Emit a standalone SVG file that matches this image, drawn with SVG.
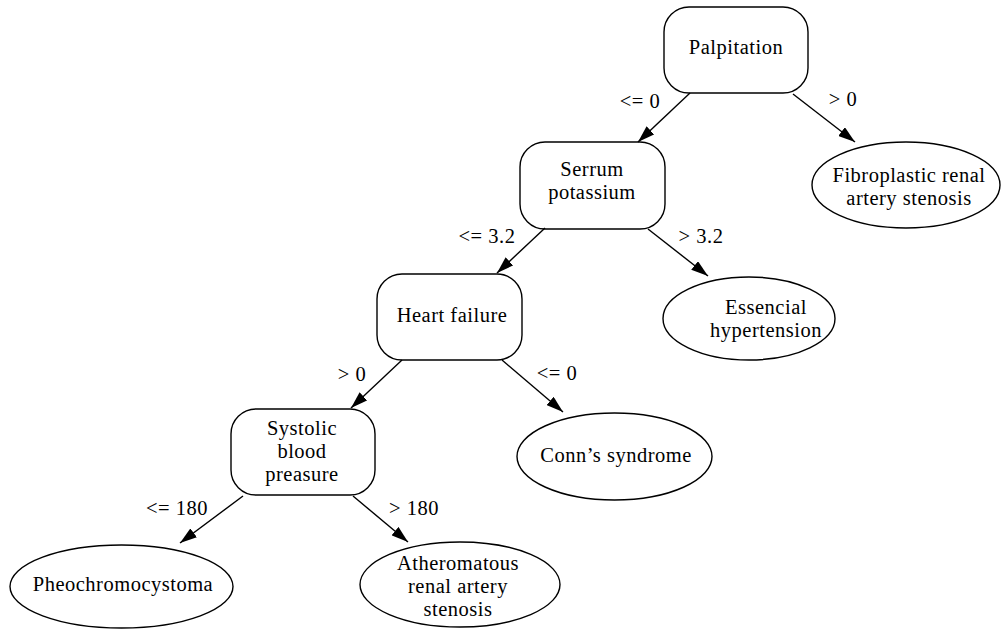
<svg xmlns="http://www.w3.org/2000/svg" width="1001" height="630" viewBox="0 0 1001 630">
  <style>
    text { font-family: "Liberation Serif", "Times New Roman", serif; font-size: 20.5px; letter-spacing: 0.5px; fill: #000; text-anchor: middle; }
    .box { fill: #fff; stroke: #000; stroke-width: 1.4; }
    .leaf { fill: #fff; stroke: #000; stroke-width: 1.4; }
    .edge { stroke: #000; stroke-width: 1.4; fill: none; marker-end: url(#arrow); }
  </style>
  <defs>
    <marker id="arrow" viewBox="0 0 17 11" refX="17" refY="5.5" markerWidth="17" markerHeight="11" markerUnits="userSpaceOnUse" orient="auto">
      <path d="M0,0 L17,5.5 L0,11 Z" fill="#000"/>
    </marker>
  </defs>
  <rect width="1001" height="630" fill="#fff"/>

  <!-- decision nodes -->
  <g id="palpitation">
    <rect class="box" x="664" y="7" width="144" height="86" rx="25"/>
    <text x="736" y="54">Palpitation</text>
  </g>
  <g id="serrum-potassium">
    <rect class="box" x="520" y="142" width="145" height="87" rx="25"/>
    <text x="592" y="176">Serrum</text>
    <text x="592" y="199">potassium</text>
  </g>
  <g id="heart-failure">
    <rect class="box" x="377" y="274" width="145" height="86" rx="25"/>
    <text x="452" y="322">Heart failure</text>
  </g>
  <g id="systolic-blood-preasure">
    <rect class="box" x="231" y="409" width="144" height="86" rx="25"/>
    <text x="302" y="435">Systolic</text>
    <text x="302" y="458">blood</text>
    <text x="302" y="481">preasure</text>
  </g>

  <!-- outcome nodes -->
  <g id="fibroplastic">
    <ellipse class="leaf" cx="906" cy="185" rx="94" ry="43"/>
    <text x="909" y="182">Fibroplastic renal</text>
    <text x="909" y="205">artery stenosis</text>
  </g>
  <g id="essencial-hypertension">
    <ellipse class="leaf" cx="749" cy="318.5" rx="86" ry="41.5"/>
    <text x="766" y="314">Essencial</text>
    <text x="766" y="337">hypertension</text>
  </g>
  <g id="conns-syndrome">
    <ellipse class="leaf" cx="614.5" cy="456.5" rx="97.5" ry="43.5"/>
    <text x="616" y="462">Conn’s syndrome</text>
  </g>
  <g id="pheochromocystoma">
    <ellipse class="leaf" cx="121.5" cy="586.5" rx="111.5" ry="41.5"/>
    <text x="123" y="591">Pheochromocystoma</text>
  </g>
  <g id="atheromatous">
    <ellipse class="leaf" cx="460" cy="584.5" rx="100" ry="42.5"/>
    <text x="458" y="570">Atheromatous</text>
    <text x="458" y="593">renal artery</text>
    <text x="458" y="616">stenosis</text>
  </g>

  <g id="connectors">
    <line class="edge" x1="690" y1="93" x2="638" y2="142"/>
    <line class="edge" x1="793" y1="94" x2="855" y2="142"/>
    <line class="edge" x1="545" y1="228" x2="497" y2="273"/>
    <line class="edge" x1="648" y1="229" x2="708" y2="276"/>
    <line class="edge" x1="402" y1="360" x2="351" y2="408"/>
    <line class="edge" x1="502" y1="360" x2="563" y2="412"/>
    <line class="edge" x1="243" y1="496" x2="180" y2="543"/>
    <line class="edge" x1="353" y1="496" x2="408" y2="542"/>
    <text x="640" y="108">&lt;= 0</text>
    <text x="843" y="106">&gt; 0</text>
    <text x="487" y="243">&lt;= 3.2</text>
    <text x="701" y="243">&gt; 3.2</text>
    <text x="352" y="381">&gt; 0</text>
    <text x="557" y="380">&lt;= 0</text>
    <text x="177" y="515">&lt;= 180</text>
    <text x="414" y="515">&gt; 180</text>
  </g>
</svg>
